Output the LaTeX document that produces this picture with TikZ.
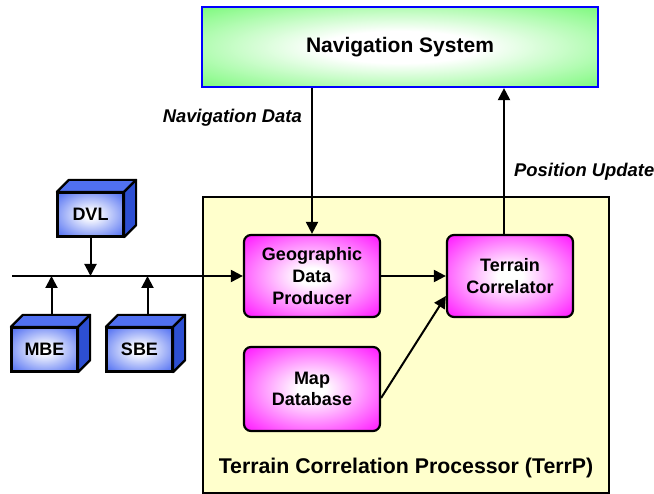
\documentclass[tikz,border=0pt]{standalone}
\usepackage{fontspec}
\setmainfont{Liberation Sans}
\usetikzlibrary{arrows.meta}
\definecolor{navgreen}{HTML}{5CF85C}
\definecolor{mag}{HTML}{FF00FF}
\definecolor{cubeblue}{HTML}{3558F0}
\definecolor{cubetop}{HTML}{5070F0}
\definecolor{cubeside}{HTML}{2D4FD2}
\definecolor{terrbg}{HTML}{FFFFCC}
\pgfdeclareradialshading{greenshade}{\pgfpoint{0bp}{0bp}}{color(0bp)=(white); color(10bp)=(white); color(42bp)=(navgreen); color(100bp)=(navgreen)}
\pgfdeclareradialshading{magshade}{\pgfpoint{0bp}{0bp}}{color(0bp)=(white); color(5bp)=(white); color(38bp)=(mag); color(100bp)=(mag)}
\pgfdeclareradialshading{blueshade}{\pgfpoint{0bp}{0bp}}{color(0bp)=(white); color(4bp)=(white); color(40bp)=(cubeblue); color(100bp)=(cubeblue)}
\tikzset{
  arr/.style={line width=2pt, -{Triangle[length=12pt,width=12pt]}},
  magbox/.style={draw, line width=2.2pt, rounded corners=7pt, shading=magshade, align=center, inner sep=0pt,
     font=\fontsize{18}{21.7}\selectfont\bfseries},
  cubefront/.style={draw, line width=2.2pt, shading=blueshade, inner sep=0pt, minimum width=65pt, minimum height=43pt,
     font=\fontsize{18}{21}\selectfont\bfseries},
  cubetopf/.style={draw, line width=2.2pt, fill=cubetop, line join=round},
  cubesidef/.style={draw, line width=2.2pt, fill=cubeside, line join=round},
  lbl/.style={font=\fontsize{18.4}{22}\selectfont\bfseries\itshape, inner sep=0pt},
}
\newcommand\mycube[3]{%
  \node[cubefront] (#1) at (#2) {#3};
  \draw[cubetopf] (#1.north west) -- ++(12,-12) -- ([shift={(12,-12)}]#1.north east) -- (#1.north east) -- cycle;
  \draw[cubesidef] (#1.north east) -- ++(12,-12) -- ([shift={(12,-12)}]#1.south east) -- (#1.south east) -- cycle;
  \draw[line width=2.2pt] (#1.north west) rectangle (#1.south east);
}
\begin{document}
\begin{tikzpicture}[x=1pt,y=-1pt]
\useasboundingbox[fill=white] (0,0) rectangle (654,494);
% Navigation system
\node[draw=blue, line width=2.2pt, shading=greenshade, minimum width=396pt, minimum height=80pt, inner sep=0pt,
  font=\fontsize{21}{25}\selectfont\bfseries] (nav) at (400,47) {Navigation System};
% TerrP box
\node[draw, line width=2pt, fill=terrbg, minimum width=406pt, minimum height=296pt, inner sep=0pt] (terrp) at (406,345) {};
\node[font=\fontsize{21.3}{25}\selectfont\bfseries, inner sep=0pt] (terrpt) at (406,468) {Terrain Correlation Processor (TerrP)};
% inner boxes
\node[magbox, minimum width=136pt, minimum height=82pt] (geo) at (312,276) {Geographic\\Data\\Producer};
\node[magbox, minimum width=126pt, minimum height=82pt] (tc) at (510,276) {Terrain\\Correlator};
\node[magbox, minimum width=136pt, minimum height=84pt] (map) at (312,389) {Map\\Database};
% cubes
\mycube{dvl}{90.5,214.5}{DVL}
\mycube{mbe}{44.5,349.5}{MBE}
\mycube{sbe}{139.5,349.5}{SBE}
% bus
\coordinate (busL) at (12,276);
\draw[arr] (busL) -- (geo.west);
\draw[arr] (dvl.south) -- (dvl.south |- busL);
\coordinate (mbetop) at ([shift={(7,-12)}]mbe.north);
\coordinate (sbetop) at ([shift={(8,-12)}]sbe.north);
\draw[arr] (mbetop) -- (mbetop |- busL);
\draw[arr] (sbetop) -- (sbetop |- busL);
% connectors
\draw[arr] (nav.south -| geo.north) -- (geo.north);
\coordinate (pu) at ([xshift=-6pt]tc.north);
\draw[arr] (pu) -- (pu |- nav.south);
\draw[arr] (geo.east) -- (tc.west);
\draw[arr] ([yshift=-9pt]map.east) -- ([yshift=-20pt]tc.west);
% labels
\node[lbl, anchor=east] (ndl) at (302,118) {Navigation Data};
\node[lbl, anchor=west] (pul) at (514,172) {Position Update};
\end{tikzpicture}
\end{document}
